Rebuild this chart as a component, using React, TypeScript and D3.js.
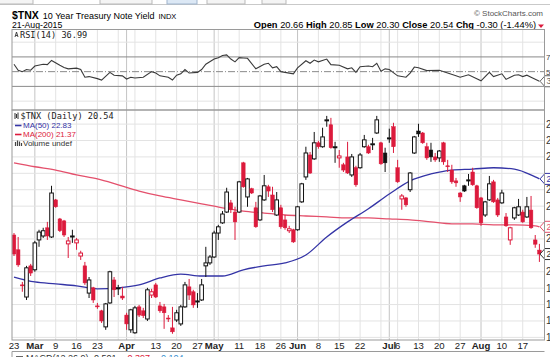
import React from "react";
import * as d3 from "d3";

// ---------- data ----------
const START = "2015-02-23";
const END = "2015-08-21";
const HOLIDAYS = ["2015-04-03", "2015-05-25", "2015-07-03"];
const PRIOR_CLOSE = 21.05;

const opens = [
  21.12, 20.67, 19.6, 19.23, 20.18, 20.06, 20.97, 21.09, 21.34, 21.06,
  22.19, 21.61, 21.55, 20.85, 21.06, 20.88, 20.48, 20.18, 19.35, 19.51,
  18.96, 18.81, 18.32, 19.05, 19.75, 19.48, 19.26, 18.68, 18.23, 18.14,
  18.93, 18.81, 18.56, 19.29, 19.6, 18.96, 18.93, 18.59, 18.29, 18.53,
  18.41, 18.93, 19.54, 19.39, 19.08, 19.14, 20.18, 20.27, 20.45, 21.18,
  21.49, 21.82, 22.1, 21.82, 21.82, 23.32, 22.28, 22.53, 21.95, 21.58,
  22.19, 22.59, 22.34, 21.73, 21.95, 21.58, 21.25, 21.28, 21.28, 22.13,
  22.89, 23.56, 23.44, 23.93, 23.81, 24.6, 24.48, 23.78, 23.47, 23.26,
  23.5, 22.95, 23.17, 23.17, 23.81, 23.81, 23.87, 24.23, 23.93, 23.62,
  24.05, 24.42, 23.17, 22.22, 22.25, 22.5, 23.62, 24.29, 24.23, 23.81,
  23.71, 23.5, 23.47, 23.93, 23.23, 23.1, 22.77, 22.4, 22.62, 22.77,
  23.04, 22.62, 22.25, 21.73, 22.19, 22.74, 22.19, 22.1, 21.67, 20.97,
  21.64, 21.73, 21.82, 21.67, 21.88, 20.97, 20.66,
];
const highs = [
  21.18, 21.06, 19.69, 20.18, 20.24, 20.94, 21.28, 21.34, 21.52, 22.62,
  22.22, 21.64, 21.58, 21.06, 21.28, 21.03, 20.64, 20.3, 19.84, 19.54,
  19.05, 18.84, 19.05, 20.03, 19.84, 19.6, 19.54, 18.75, 18.87, 18.96,
  18.99, 18.9, 19.51, 19.48, 19.66, 19.08, 19.02, 18.68, 18.93, 18.84,
  18.99, 19.69, 19.78, 19.45, 19.35, 19.78, 20.76, 20.51, 21.25, 21.43,
  21.85, 22.56, 22.19, 21.98, 22.77, 23.35, 22.86, 22.56, 22.13, 22.34,
  22.95, 22.65, 22.59, 22.43, 22.04, 21.73, 21.4, 21.31, 22.01, 22.71,
  23.81, 23.65, 24.26, 23.99, 24.39, 24.75, 24.69, 23.96, 23.71, 23.32,
  23.96, 23.59, 23.23, 23.62, 24.17, 23.87, 24.08, 24.75, 23.96, 23.78,
  24.36, 24.54, 23.41, 22.37, 22.28, 23.04, 24.14, 24.51, 24.26, 23.93,
  23.93, 23.62, 23.71, 23.96, 23.41, 23.26, 22.86, 22.43, 22.65, 22.98,
  23.17, 22.65, 22.28, 22.16, 22.92, 22.8, 22.25, 22.5, 21.79, 21.37,
  21.98, 22.22, 21.89, 22.28, 22.31, 21.12, 20.85,
];
const lows = [
  20.48, 20.15, 19.39, 19.14, 19.87, 20.0, 20.76, 21.03, 20.97, 21.03,
  21.95, 21.21, 21.06, 20.42, 20.88, 20.67, 20.36, 19.6, 19.2, 19.05,
  18.87, 18.44, 18.23, 19.02, 19.23, 19.29, 19.14, 18.23, 18.14, 18.11,
  18.62, 18.59, 18.5, 19.2, 19.2, 18.75, 18.26, 18.47, 18.11, 18.47,
  18.35, 18.9, 19.14, 18.9, 18.9, 19.11, 19.84, 20.21, 20.42, 20.97,
  21.46, 21.79, 21.79, 20.97, 21.79, 22.56, 21.98, 22.37, 21.34, 21.55,
  22.16, 22.28, 21.82, 21.7, 21.31, 21.28, 21.18, 20.88, 21.25, 22.1,
  22.8, 22.98, 23.41, 23.75, 23.78, 24.42, 23.75, 23.32, 23.17, 23.04,
  22.98, 22.89, 22.59, 23.14, 23.78, 23.59, 23.71, 24.2, 23.26, 23.04,
  23.93, 23.62, 22.71, 21.89, 21.98, 22.43, 23.59, 24.11, 23.9, 23.41,
  23.35, 23.35, 23.35, 23.26, 23.04, 22.68, 22.59, 22.13, 22.43, 22.62,
  22.62, 21.92, 21.4, 21.67, 22.16, 22.1, 21.67, 22.07, 21.37, 20.82,
  21.58, 21.7, 21.49, 21.64, 21.31, 20.73, 20.3,
];
const closes = [
  20.54, 20.21, 19.57, 20.12, 19.96, 20.88, 21.21, 21.25, 21.09, 22.4,
  21.98, 21.25, 21.12, 20.94, 21.09, 20.97, 20.57, 19.66, 19.75, 19.14,
  18.93, 18.5, 19.02, 20.0, 19.45, 19.51, 19.2, 18.41, 18.84, 18.9,
  18.68, 18.66, 19.45, 19.39, 19.23, 18.81, 18.75, 18.56, 18.17, 18.75,
  18.93, 19.6, 19.29, 18.99, 19.11, 19.6, 20.27, 20.45, 21.18, 21.37,
  21.76, 22.43, 21.89, 21.52, 22.74, 22.59, 22.83, 22.4, 21.37, 22.31,
  22.62, 22.46, 21.89, 22.19, 21.37, 21.34, 21.31, 20.91, 21.98, 22.68,
  23.62, 23.01, 23.93, 23.81, 24.11, 24.63, 23.78, 23.81, 23.53, 23.1,
  23.01, 23.5, 22.65, 23.56, 24.02, 23.62, 23.9, 24.63, 23.29, 23.32,
  24.08, 23.81, 22.74, 22.31, 22.04, 23.01, 24.11, 24.2, 23.93, 23.47,
  23.5, 23.41, 23.68, 23.35, 23.2, 22.74, 22.71, 22.28, 22.46, 22.8,
  22.65, 21.95, 21.49, 22.13, 22.68, 22.13, 21.73, 22.4, 21.4, 21.34,
  21.95, 21.98, 21.52, 21.98, 21.34, 20.84, 20.54,
];

// moving averages read at sample trading-day indices
const maDays = [0, 5, 10, 15, 20, 25, 30, 35, 40, 45, 50, 55, 60, 65, 70, 75, 80, 85, 90, 95, 100, 105, 110, 115, 120, 125, 126];
const ma50 = [19.84, 19.69, 19.63, 19.57, 19.48, 19.51, 19.6, 19.81, 19.93, 19.87, 19.87, 20.06, 20.18, 20.27, 20.51, 21.06, 21.52, 21.92, 22.37, 22.77, 22.98, 23.1, 23.13, 23.17, 23.13, 22.89, 22.83];
const ma200 = [23.32, 23.2, 23.1, 22.95, 22.83, 22.65, 22.46, 22.31, 22.19, 22.07, 21.95, 21.85, 21.79, 21.73, 21.7, 21.67, 21.64, 21.64, 21.61, 21.58, 21.52, 21.46, 21.46, 21.43, 21.43, 21.4, 21.37];

// RSI(14) readings
const rsiDays = [0,1,2,3,4,5,7,8,9,11,12,13,15,16,17,18,20,21,23,24,26,27,28,29,31,33,34,35,37,38,39,40,41,42,44,45,46,48,49,50,51,52,53,54,55,56,58,60,61,62,63,64,67,68,70,71,72,73,75,76,78,80,81,82,83,85,86,87,88,89,90,92,94,95,96,97,99,102,104,106,107,109,112,114,115,117,118,120,121,122,123,124,126];
const rsiValues = [60,51.9,50,52.9,51.9,57.6,60,59.5,65.2,58.6,55.7,53.8,54.8,52.9,42.4,43.3,40.5,38.6,49,45.2,44.3,40,42.4,41.4,42.4,50,48.1,44.3,42.4,38.6,45.2,47.1,52.9,48.1,49,52.9,60,67.1,69,71.9,72.8,67.1,63.3,69,68.6,68.1,53.8,60,61.4,55.2,56.7,50,47.1,55.2,64.8,61.4,65.7,63.3,67.1,59.5,58.6,53.8,55.2,49,56.7,57.6,56.7,61.4,50.5,53.8,52.9,44.3,42.4,48.1,56.2,55.2,51.4,51.9,48.1,44.3,42.4,45.7,37.6,49,43.3,47.1,39.5,45.2,45.7,43.3,45.2,42.4,36.99];

const tickDates = ["2015-02-23","2015-03-02","2015-03-09","2015-03-16","2015-03-23","2015-04-01","2015-04-13","2015-04-20","2015-04-27","2015-05-01","2015-05-11","2015-05-18","2015-05-26","2015-06-01","2015-06-08","2015-06-15","2015-06-22","2015-07-01","2015-07-06","2015-07-13","2015-07-20","2015-07-27","2015-08-03","2015-08-10","2015-08-17"];
const tickLabels = ["23","Mar","9","16","23","Apr","13","20","27","May","11","18","26","Jun","8","15","22","Jul","6","13","20","27","Aug","10","17"];
const priceTicks = [18, 18.5, 19, 19.5, 20, 20.5, 21, 21.5, 22, 22.5, 23, 23.5, 24, 24.5];
const rsiTicks = [70, 50, 30];

// ---------- layout ----------
const W = 550, H = 357;
const L = 12, R = 544.5;
const RSI_T = 29.5, RSI_B = 110, MAIN_B = 340;
const RED = "#dc1a3c";
const BLUE = "#3434a6";
const PINK = "#e4506c";
const SANS = "'Liberation Sans', Arial, sans-serif";
const MONO = "'DejaVu Sans Mono', monospace";

export default function App() {
  const parse = d3.timeParse("%Y-%m-%d");
  const fmt = d3.timeFormat("%Y-%m-%d");
  const dates = d3
    .timeDay.range(parse(START)!, d3.timeDay.offset(parse(END)!, 1))
    .filter((d) => d.getDay() !== 0 && d.getDay() !== 6 && !HOLIDAYS.includes(fmt(d)));
  const keys = dates.map(fmt);

  const x = d3.scalePoint<string>().domain(keys).range([14, 539.4]);
  const y = d3.scaleLinear().domain([17.92, 24.93]).range([MAIN_B, 110]);
  const yr = d3.scaleLinear().domain([0, 100]).range([108.5, 34.8]);

  const weekStarts: string[] = [];
  const monthStarts: string[] = [];
  dates.forEach((d, i) => {
    if (i === 0) return;
    const p = dates[i - 1];
    if (d.getMonth() !== p.getMonth()) monthStarts.push(keys[i]);
    else if (+d3.timeMonday.floor(d) !== +d3.timeMonday.floor(p)) weekStarts.push(keys[i]);
  });

  const maLine = d3
    .line<number>()
    .x((_, j) => x(keys[maDays[j]])!)
    .y((d) => y(d))
    .curve(d3.curveMonotoneX);
  const rsiLine = d3
    .line<number>()
    .x((_, j) => x(keys[rsiDays[j]])!)
    .y((d) => yr(d));

  const last = closes.length - 1;
  const priceMarkers = [
    { v: ma50[ma50.length - 1], color: BLUE, label: "22.83" },
    { v: ma200[ma200.length - 1], color: PINK, label: "21.37" },
    { v: closes[last], color: "#333", label: "20.54" },
  ];
  const rsiMarkerY = yr(rsiValues[rsiValues.length - 1]);

  const marker = (yy: number, color: string, label: string, key: string) => (
    <g key={key}>
      <path
        d={`M540,${yy} L545,${yy - 5.5} L560,${yy - 5.5} L560,${yy + 5.5} L545,${yy + 5.5} Z`}
        fill="#fff"
        stroke={color}
        strokeWidth={1}
      />
      <text x={546.5} y={yy + 3.2} fontSize={8.5} fontFamily={SANS} fill={color}>
        {label}
      </text>
    </g>
  );

  // axis labels hidden under the value markers are not drawn
  const freePrice = (v: number) => priceMarkers.every((m) => Math.abs(y(m.v) - y(v)) > 9);
  const freeRsi = (v: number) => Math.abs(yr(v) - rsiMarkerY) > 8;

  return (
    <svg
      width={W}
      height={H}
      style={{ position: "fixed", left: 0, top: 0, background: "#fff" }}
    >
      <rect x={0} y={0} width={W} height={H} fill="#fff" />
      {/* top toolbar remnants */}
      <line x1={0} x2={W} y1={4.5} y2={4.5} stroke="#c9c9c9" />
      <rect x={-1} y={-8} width={34} height={12} fill="#f4f4f4" stroke="#b9b9b9" />
      <rect x={100} y={-8} width={52} height={12} fill="#f4f4f4" stroke="#b9b9b9" />
      <rect x={167} y={-8} width={30} height={12} fill="#dce8f5" stroke="#9fb4cc" />
      <rect x={207} y={-8} width={38} height={12} fill="#f4f4f4" stroke="#b9b9b9" />
      <rect x={262} y={-8} width={24} height={12} fill="#f4f4f4" stroke="#b9b9b9" />

      {/* header */}
      <text x={12} y={18.5} fontFamily={SANS} fill="#000">
        <tspan fontSize={10.5} fontWeight="bold">$TNX</tspan>
        <tspan fontSize={9} dx={4}>10 Year Treasury Note Yield</tspan>
        <tspan fontSize={7.5} dx={4}>INDX</tspan>
      </text>
      <text x={12} y={27.5} fontFamily={SANS} fontSize={8.7} fill="#000">21-Aug-2015</text>
      <text x={543} y={16} textAnchor="end" fontFamily={SANS} fontSize={8} fill="#555">© StockCharts.com</text>
      <text x={536} y={27.5} textAnchor="end" fontFamily={SANS} fontSize={9.3} fill="#000">
        <tspan fontWeight="bold">Open</tspan> 20.66 <tspan fontWeight="bold">High</tspan> 20.85{" "}
        <tspan fontWeight="bold">Low</tspan> 20.30 <tspan fontWeight="bold">Close</tspan> 20.54{" "}
        <tspan fontWeight="bold">Chg</tspan> -0.30 (-1.44%)
      </text>
      <path d="M538,24.5 L544,24.5 L541,28 Z" fill={RED} />

      {/* vertical grid */}
      {weekStarts.map((k) => (
        <line key={"w" + k} x1={x(k)} x2={x(k)} y1={RSI_T} y2={MAIN_B} stroke="#e3e3e3" />
      ))}
      {monthStarts.map((k) => (
        <line key={"m" + k} x1={x(k)} x2={x(k)} y1={RSI_T} y2={MAIN_B} stroke="#c4c4c4" />
      ))}

      {/* RSI panel */}
      {[10, 90].map((v) => (
        <line key={"rg" + v} x1={L} x2={R} y1={yr(v)} y2={yr(v)} stroke="#e3e3e3" />
      ))}
      <line x1={L} x2={R} y1={yr(70)} y2={yr(70)} stroke="#8a8a8a" />
      <line x1={L} x2={R} y1={yr(30)} y2={yr(30)} stroke="#8a8a8a" />
      <line x1={L} x2={R} y1={yr(50)} y2={yr(50)} stroke="#8a8a8a" strokeDasharray="7,2,1,2" />
      <path d={rsiLine(rsiValues) || ""} fill="none" stroke="#3a3a3a" strokeWidth={1.1} />
      {rsiTicks.filter(freeRsi).map((v) => (
        <text key={"rl" + v} x={546} y={yr(v) + 3} fontSize={8} fontFamily={SANS} fill="#444">{v}</text>
      ))}
      {marker(rsiMarkerY, "#666", "36.99", "rsim")}
      <path d="M15,37 L16.5,32 L18,37 M15.5,35.5 H17.5" stroke="#333" strokeWidth={0.9} fill="none" />
      <text x={20} y={37.5} fontSize={8.6} fontFamily={MONO} fill="#222">RSI(14) 36.99</text>

      {/* main panel grid */}
      {priceTicks.map((v) => (
        <line key={"hg" + v} x1={L} x2={R} y1={y(v)} y2={y(v)} stroke="#e3e3e3" />
      ))}
      {priceTicks.filter(freePrice).map((v) => (
        <text key={"pt" + v} x={546} y={y(v) + 3.5} fontSize={10} fontFamily={SANS} fill="#333">
          {v.toFixed(1)}
        </text>
      ))}

      {/* moving averages */}
      <path d={maLine(ma200) || ""} fill="none" stroke={PINK} strokeWidth={1.3} />
      <path d={maLine(ma50) || ""} fill="none" stroke={BLUE} strokeWidth={1.3} />

      {/* candles */}
      {keys.map((k, i) => {
        const cx = x(k)!;
        const o = opens[i], c = closes[i], h = highs[i], l = lows[i];
        const prev = i > 0 ? closes[i - 1] : PRIOR_CLOSE;
        const color = c < prev ? RED : "#111";
        const hollow = c > o;
        const top = y(Math.max(o, c));
        const bh = Math.max(y(Math.min(o, c)) - top, 1);
        return (
          <g key={k}>
            <line x1={cx} x2={cx} y1={y(h)} y2={y(l)} stroke={color} strokeWidth={1} />
            <rect
              x={cx - 1.8}
              y={top}
              width={3.6}
              height={bh}
              fill={hollow ? "#fff" : color}
              stroke={color}
              strokeWidth={hollow ? 1 : 0.5}
            />
          </g>
        );
      })}

      {/* right value markers */}
      {priceMarkers.map((m, j) => marker(y(m.v), m.color, m.label, "pm" + j))}

      {/* legend */}
      <g>
        <path d="M15,113 V119 M16.5,114 V118 M18,112.5 V119" stroke="#333" strokeWidth={1} />
        <text x={20.5} y={119} fontSize={8.6} fontFamily={MONO} fill="#222">$TNX (Daily) 20.54</text>
        <line x1={15} x2={21.5} y1={125.5} y2={125.5} stroke={BLUE} strokeWidth={1.6} />
        <text x={23} y={128} fontSize={8} fontFamily={SANS} fill={BLUE}>MA(50) 22.83</text>
        <line x1={15} x2={21.5} y1={134.5} y2={134.5} stroke={RED} strokeWidth={1.6} />
        <text x={23} y={137} fontSize={8} fontFamily={SANS} fill={RED}>MA(200) 21.37</text>
        <path d="M15.5,146 V142 M17.5,146 V140.5 M19.5,146 V141.5 M21.5,146 V143" stroke="#444" strokeWidth={1.2} />
        <text x={23} y={146} fontSize={8} fontFamily={SANS} fill="#333">Volume undef</text>
      </g>

      {/* panel borders */}
      <rect x={L} y={RSI_T} width={R - L} height={RSI_B - RSI_T} fill="none" stroke="#9a9a9a" />
      <rect x={L} y={RSI_B} width={R - L} height={MAIN_B - RSI_B} fill="none" stroke="#9a9a9a" />

      {/* x axis labels */}
      {tickDates.map((k, i) => {
        const bold = isNaN(+tickLabels[i]);
        return (
          <text
            key={"xl" + k}
            x={x(k)}
            y={348.5}
            textAnchor="middle"
            fontSize={9.6}
            fontWeight={bold ? "bold" : "normal"}
            fontFamily={SANS}
            fill="#222"
          >
            {tickLabels[i]}
          </text>
        );
      })}

      {/* MACD panel top (cut off) */}
      <line x1={L} x2={R} y1={351.5} y2={351.5} stroke="#9a9a9a" />
      <line x1={L} x2={L} y1={351.5} y2={H} stroke="#9a9a9a" />
      <line x1={16} x2={23} y1={357} y2={357} stroke="#333" strokeWidth={1.5} />
      <text x={26} y={361} fontSize={9} fontFamily={SANS} fill="#333">
        MACD(12,26,9) -0.501
        <tspan fill={RED} dx={8}>-0.397</tspan>
        <tspan fill="#3a8fd0" dx={8}>-0.104</tspan>
      </text>
    </svg>
  );
}
